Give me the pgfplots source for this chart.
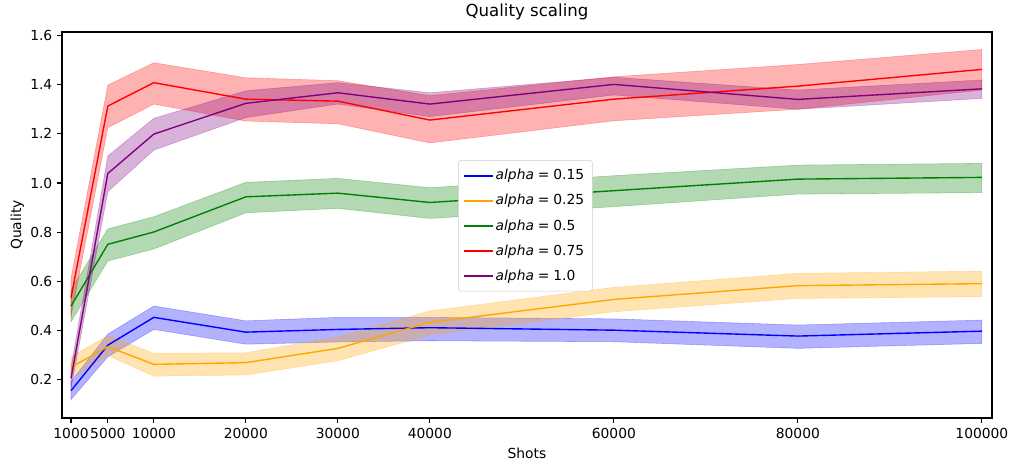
\documentclass[border=0pt]{standalone}
\usepackage{pgfplots}
\pgfplotsset{compat=1.18}
\usepackage{pgfplotstable}
\usepgfplotslibrary{fillbetween}
\usepackage{fontspec}
\setmainfont{DejaVu Sans}
\definecolor{mblue}{RGB}{0,0,255}
\definecolor{morange}{RGB}{255,165,0}
\definecolor{mgreen}{RGB}{0,128,0}
\definecolor{mred}{RGB}{255,0,0}
\definecolor{mpurple}{RGB}{128,0,128}
\newcommand\eq{\hspace{0.28em}=\hspace{0.28em}}

\pgfplotstableread{
x y lo hi
1000 0.156 0.120 0.192
5000 0.341 0.294 0.386
10000 0.454 0.405 0.500
20000 0.394 0.345 0.440
30000 0.405 0.354 0.454
40000 0.412 0.359 0.454
60000 0.402 0.355 0.448
80000 0.378 0.328 0.423
100000 0.398 0.348 0.443
}\tA
\pgfplotstableread{
x y lo hi
1000 0.251 0.206 0.294
5000 0.335 0.300 0.380
10000 0.263 0.215 0.308
20000 0.270 0.220 0.310
30000 0.328 0.278 0.375
40000 0.434 0.382 0.480
60000 0.527 0.477 0.576
80000 0.583 0.531 0.633
100000 0.591 0.538 0.642
}\tB
\pgfplotstableread{
x y lo hi
1000 0.500 0.436 0.565
5000 0.751 0.683 0.814
10000 0.801 0.732 0.863
20000 0.944 0.879 1.003
30000 0.959 0.897 1.019
40000 0.921 0.856 0.981
60000 0.969 0.904 1.030
80000 1.016 0.955 1.073
100000 1.023 0.961 1.080
}\tC
\pgfplotstableread{
x y lo hi
1000 0.534 0.457 0.612
5000 1.313 1.225 1.398
10000 1.408 1.321 1.489
20000 1.341 1.252 1.428
30000 1.333 1.241 1.416
40000 1.256 1.163 1.355
60000 1.341 1.253 1.432
80000 1.394 1.300 1.482
100000 1.462 1.378 1.543
}\tD
\pgfplotstableread{
x y lo hi
1000 0.206 0.165 0.250
5000 1.039 0.965 1.110
10000 1.199 1.134 1.263
20000 1.324 1.266 1.375
30000 1.367 1.321 1.408
40000 1.321 1.270 1.367
60000 1.401 1.358 1.430
80000 1.340 1.300 1.378
100000 1.383 1.344 1.419
}\tE

\begin{document}
\begin{tikzpicture}
\begin{axis}[
  scale only axis,
  width=9.30in, height=3.86in,
  xmin=20, xmax=101100,
  ymin=0.045, ymax=1.614,
  xtick={1000,5000,10000,20000,30000,40000,60000,80000,100000},
  xticklabels={1000,5000,10000,20000,30000,40000,60000,80000,100000},
  ytick={0.2,0.4,0.6,0.8,1.0,1.2,1.4,1.6},
  yticklabel style={/pgf/number format/.cd, fixed, fixed zerofill, precision=1},
  /pgf/number format/assume math mode=true,
  scaled x ticks=false,
  tick align=outside,
  major tick length=3.5pt,
  xtick pos=bottom, ytick pos=left,
  tick label style={font=\fontsize{10}{12}\selectfont, text=black},
  tick style={black, line width=0.8pt},
  axis line style={black, line width=0.8pt},
  title={Quality scaling},
  every axis title/.style={at={(axis description cs:0.5,1.052)}, anchor=center, font=\fontsize{12}{14}\selectfont},
  xlabel={Shots},
  ylabel={Quality},
  every axis x label/.style={at={(axis description cs:0.5,-0.091)}, anchor=center, font=\fontsize{10}{12}\selectfont},
  every axis y label/.style={at={(axis description cs:-0.048,0.5)}, anchor=center, rotate=90, font=\fontsize{10}{12}\selectfont},
  legend style={at={(axis description cs:0.426,0.668)}, anchor=north west,
    draw=black!20, rounded corners=2pt, fill=white,
    font=\fontsize{10}{12}\selectfont, row sep=5pt, inner xsep=4pt, inner ysep=4.5pt},
  legend cell align=left,
  legend image code/.code={\fill[#1, sharp corners] (0cm,-0.55pt) rectangle (0.72cm,0.55pt);},
]
\addlegendimage{mblue}
\addlegendentry{\textit{alpha}\eq 0.15}
\addlegendimage{morange}
\addlegendentry{\textit{alpha}\eq 0.25}
\addlegendimage{mgreen}
\addlegendentry{\textit{alpha}\eq 0.5}
\addlegendimage{mred}
\addlegendentry{\textit{alpha}\eq 0.75}
\addlegendimage{mpurple}
\addlegendentry{\textit{alpha}\eq 1.0}
% alpha=0.15
\addplot[mblue, line width=1pt, forget plot] table[x=x,y=y]{\tA};
\addplot[name path=au, draw=none, forget plot] table[x=x,y=hi]{\tA};
\addplot[name path=al, draw=none, forget plot] table[x=x,y=lo]{\tA};
\addplot[fill=mblue, fill opacity=0.3, draw=mblue, draw opacity=0.3, forget plot] fill between[of=au and al];
% alpha=0.25
\addplot[morange, line width=1pt, forget plot] table[x=x,y=y]{\tB};
\addplot[name path=bu, draw=none, forget plot] table[x=x,y=hi]{\tB};
\addplot[name path=bl, draw=none, forget plot] table[x=x,y=lo]{\tB};
\addplot[fill=morange, fill opacity=0.3, draw=morange, draw opacity=0.3, forget plot] fill between[of=bu and bl];
% alpha=0.5
\addplot[mgreen, line width=1pt, forget plot] table[x=x,y=y]{\tC};
\addplot[name path=cu, draw=none, forget plot] table[x=x,y=hi]{\tC};
\addplot[name path=cl, draw=none, forget plot] table[x=x,y=lo]{\tC};
\addplot[fill=mgreen, fill opacity=0.3, draw=mgreen, draw opacity=0.3, forget plot] fill between[of=cu and cl];
% alpha=0.75
\addplot[mred, line width=1pt, forget plot] table[x=x,y=y]{\tD};
\addplot[name path=du, draw=none, forget plot] table[x=x,y=hi]{\tD};
\addplot[name path=dl, draw=none, forget plot] table[x=x,y=lo]{\tD};
\addplot[fill=mred, fill opacity=0.3, draw=mred, draw opacity=0.3, forget plot] fill between[of=du and dl];
% alpha=1.0
\addplot[mpurple, line width=1pt, forget plot] table[x=x,y=y]{\tE};
\addplot[name path=eu, draw=none, forget plot] table[x=x,y=hi]{\tE};
\addplot[name path=el, draw=none, forget plot] table[x=x,y=lo]{\tE};
\addplot[fill=mpurple, fill opacity=0.3, draw=mpurple, draw opacity=0.3, forget plot] fill between[of=eu and el];
\end{axis}
\pgfresetboundingbox
\path (current axis.south west) ++(-0.62in,-0.52in) rectangle ++(10.18in,4.70in);
\end{tikzpicture}
\end{document}
